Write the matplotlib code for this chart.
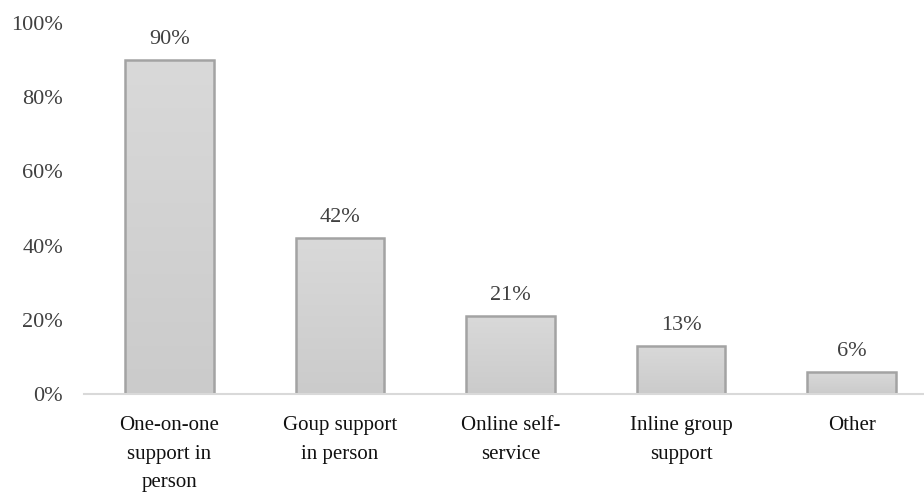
import matplotlib
matplotlib.use("Agg")
import matplotlib.pyplot as plt
import numpy as np
from matplotlib.ticker import FuncFormatter

categories = ["One-on-one\nsupport in\nperson", "Goup support\nin person",
              "Online self-\nservice", "Inline group\nsupport", "Other"]
values = [90, 42, 21, 13, 6]
yticks = [0, 20, 40, 60, 80, 100]

plt.rcParams["font.family"] = ["Liberation Serif", "DejaVu Serif"]

fig = plt.figure(figsize=(9.24, 4.97), dpi=100)
# axes run past the right edge of the figure, so the last category is clipped
ax = fig.add_axes([84 / 924, 1 - 394 / 497, 853 / 924, 371 / 497])

x = np.arange(len(categories))
width = 0.52
bars = ax.bar(x, values, width=width, facecolor="none", edgecolor="#a3a3a3",
              linewidth=1.8, zorder=3)

# vertical grey gradient inside each bar
grad = np.linspace(0, 1, 256).reshape(-1, 1)
cmap = matplotlib.colors.LinearSegmentedColormap.from_list("g", ["#cbcbcb", "#d9d9d9"])
for b in bars:
    x0, y0 = b.get_x(), b.get_y()
    w, h = b.get_width(), b.get_height()
    im = ax.imshow(grad, cmap=cmap, origin="lower", aspect="auto",
                   extent=[x0, x0 + w, y0, y0 + h], zorder=2)
    im.set_clip_path(b)

for xi, v in zip(x, values):
    ax.annotate(f"{v}%", (xi, v), xytext=(0, 8), textcoords="offset points",
                ha="center", va="bottom", fontsize=16, color="#404040")

ax.set_xlim(-0.5, len(categories) - 0.5)
ax.set_ylim(0, 100)
ax.set_yticks(yticks)
ax.yaxis.set_major_formatter(FuncFormatter(lambda v, p: f"{v:.0f}%"))
ax.set_xticks(x)
ax.set_xticklabels(categories, fontsize=15, linespacing=1.68, color="#111111")
ax.tick_params(axis="y", length=0, pad=15, labelsize=16, labelcolor="#404040")
ax.tick_params(axis="x", length=0, pad=16)

for s in ["top", "right", "left"]:
    ax.spines[s].set_visible(False)
ax.spines["bottom"].set_color("#d9d9d9")
ax.spines["bottom"].set_linewidth(1.5)
ax.spines["bottom"].set_zorder(4)

fig.savefig("out.png", dpi=100)
